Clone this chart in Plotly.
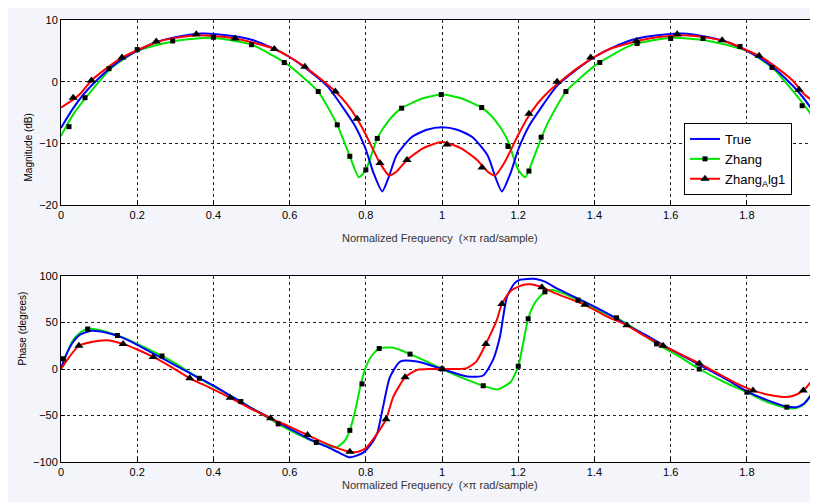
import plotly.graph_objects as go

# ---------------- Magnitude (dB) ----------------
mag_true_x = [0, 0.03, 0.06, 0.1, 0.15, 0.2, 0.25, 0.3, 0.37, 0.45, 0.5, 0.55, 0.6, 0.65, 0.7, 0.74, 0.77, 0.8, 0.82, 0.843, 0.86, 0.88, 0.92, 0.96, 1.0,
              1.04, 1.08, 1.12, 1.14, 1.157, 1.18, 1.2, 1.23, 1.26, 1.3, 1.35, 1.4, 1.45, 1.5, 1.55, 1.63, 1.7, 1.75, 1.8, 1.85, 1.9, 1.94, 1.97, 1.985]
mag_true_y = [-7.5, -4.5, -2.0, 0.6, 3.2, 5.0, 6.4, 7.2, 7.8, 7.4, 6.8, 5.6, 4.0, 1.8, -0.8, -4.2, -7.0, -11.0, -14.8, -17.8, -15.5, -12.0, -9.0, -7.8, -7.4,
              -7.8, -9.0, -12.0, -15.5, -17.8, -14.8, -11.0, -7.0, -4.2, -0.8, 1.8, 4.0, 5.6, 6.8, 7.4, 7.8, 7.2, 6.4, 5.0, 3.2, 0.6, -2.0, -4.5, -6.3]

mag_zhang_x = [0, 0.03, 0.065, 0.1, 0.13, 0.2, 0.3, 0.4, 0.5, 0.59, 0.63, 0.675, 0.725, 0.758, 0.782, 0.8, 0.83, 0.86, 0.894, 0.95, 1.0,
               1.05, 1.106, 1.14, 1.17, 1.2, 1.218, 1.242, 1.275, 1.325, 1.37, 1.41, 1.5, 1.6, 1.7, 1.8, 1.87, 1.9, 1.935, 1.97, 1.985]
mag_zhang_y = [-8.8, -5.5, -2.6, 0.0, 2.1, 5.0, 6.6, 7.1, 6.0, 3.0, 1.0, -1.6, -7.0, -12.1, -15.5, -14.3, -9.2, -6.3, -4.3, -2.7, -2.1,
               -2.7, -4.3, -6.3, -9.2, -14.3, -15.5, -12.1, -7.0, -1.6, 1.0, 3.0, 6.0, 7.1, 6.6, 5.0, 2.1, 0.0, -2.6, -5.5, -7.5]

mag_alg1_x = [0, 0.03, 0.05, 0.08, 0.12, 0.16, 0.2, 0.25, 0.3, 0.355, 0.4, 0.457, 0.5, 0.56, 0.6, 0.64, 0.68, 0.72, 0.75, 0.777, 0.8, 0.837, 0.861, 0.88, 0.908, 0.95, 1.0,
              1.05, 1.092, 1.12, 1.139, 1.163, 1.2, 1.223, 1.25, 1.28, 1.32, 1.36, 1.4, 1.44, 1.5, 1.543, 1.6, 1.645, 1.7, 1.75, 1.8, 1.84, 1.88, 1.92, 1.95, 1.97, 1.985]
mag_alg1_y = [-4.2, -3.0, -2.0, 0.2, 2.2, 3.9, 5.1, 6.4, 7.1, 7.5, 7.4, 7.0, 6.4, 5.3, 4.0, 2.4, 0.5, -1.6, -3.6, -6.0, -8.6, -13.2, -15.2, -14.6, -12.7, -10.8, -9.8,
              -10.8, -12.7, -14.6, -15.2, -13.2, -8.6, -6.0, -3.6, -1.6, 0.5, 2.4, 4.0, 5.3, 6.4, 7.0, 7.4, 7.5, 7.1, 6.4, 5.1, 3.9, 2.2, 0.2, -2.0, -3.0, -3.8]

mag_zhang_mx = [0.021, 0.063, 0.126, 0.2, 0.293, 0.4, 0.5, 0.586, 0.675, 0.725, 0.758, 0.8, 0.83, 0.894, 0.998, 1.104, 1.173, 1.228, 1.26, 1.325,
                1.414, 1.512, 1.6, 1.685, 1.782, 1.866, 1.945]
mag_zhang_my = [-7.3, -2.6, 2.1, 5.2, 6.6, 7.2, 6.0, 3.1, -1.6, -7.0, -12.1, -14.3, -9.2, -4.3, -2.1, -4.2, -10.5, -14.5, -9.0, -1.6,
                3.1, 6.2, 7.0, 7.0, 5.7, 2.3, -3.9]

mag_alg1_mx = [0.032, 0.08, 0.16, 0.25, 0.355, 0.457, 0.56, 0.64, 0.72, 0.777, 0.837, 0.908, 1.013, 1.105, 1.228, 1.302, 1.39, 1.51, 1.617, 1.735, 1.832, 1.937]
mag_alg1_my = [-2.6, 0.2, 3.9, 6.5, 7.7, 7.0, 5.3, 2.4, -1.6, -6.0, -13.2, -12.7, -10.2, -13.9, -5.2, 0.0, 3.9, 6.6, 7.7, 6.7, 4.2, -1.3]

# ---------------- Phase (degrees) ----------------
ph_true_x = [0, 0.01, 0.03, 0.05, 0.08, 0.12, 0.16, 0.2, 0.25, 0.3, 0.35, 0.4, 0.45, 0.5, 0.55, 0.6, 0.65, 0.7, 0.73, 0.758, 0.793, 0.815, 0.83, 0.845, 0.863, 0.89, 0.934, 1.0,
             1.066, 1.108, 1.134, 1.152, 1.17, 1.19, 1.205, 1.242, 1.27, 1.3, 1.35, 1.4, 1.45, 1.5, 1.55, 1.6, 1.65, 1.7, 1.75, 1.8, 1.85, 1.9, 1.93, 1.95, 1.97, 1.985]
ph_true_y = [0, 12, 28, 37, 41, 39, 34, 26, 15, 4, -7, -18, -30, -42, -53, -64, -75, -84, -90, -95, -90, -80, -69, -41, -9, 8, 8, 0,
             -8, -7, 10, 35, 77, 92, 96, 97, 94, 87, 77, 67, 56, 44, 33, 21, 10, -1, -12, -24, -33, -40, -41, -37, -27, -14]

ph_zhang_x = [0, 0.01, 0.03, 0.05, 0.07, 0.1, 0.148, 0.2, 0.265, 0.3, 0.363, 0.42, 0.472, 0.52, 0.57, 0.62, 0.67, 0.7, 0.724, 0.745, 0.758, 0.772, 0.787, 0.8, 0.815, 0.835, 0.87, 0.916, 0.96, 1.0,
              1.05, 1.108, 1.145, 1.18, 1.2, 1.213, 1.226, 1.245, 1.27, 1.29, 1.32, 1.357, 1.41, 1.458, 1.51, 1.563, 1.62, 1.675, 1.74, 1.8, 1.85, 1.905, 1.93, 1.95, 1.973, 1.985]
ph_zhang_y = [0, 11, 30, 39, 43, 42, 36, 27, 14, 6, -10, -23, -35, -47, -59, -70, -79, -83, -84, -77, -66, -45, -16, 2, 14, 22, 23, 16, 8, 0,
              -9, -18, -22, -14, 3, 28, 54, 72, 83, 85, 81, 74, 63, 55, 42, 27, 14, 0, -14, -25, -35, -42, -42, -38, -24, -12]

ph_alg1_x = [0, 0.02, 0.047, 0.08, 0.12, 0.163, 0.2, 0.242, 0.29, 0.338, 0.39, 0.444, 0.5, 0.55, 0.6, 0.647, 0.7, 0.758, 0.78, 0.8, 0.82, 0.853, 0.872, 0.903, 0.934, 0.97, 1.0,
             1.04, 1.065, 1.09, 1.115, 1.144, 1.157, 1.18, 1.21, 1.23, 1.262, 1.3, 1.375, 1.43, 1.485, 1.53, 1.58, 1.63, 1.675, 1.72, 1.77, 1.816, 1.86, 1.895, 1.92, 1.948, 1.97, 1.985]
ph_alg1_y = [0, 12, 25, 29, 31, 27, 21, 13, 2, -10, -20, -31, -43, -53, -62, -71, -81, -89, -89, -85, -75, -54, -30, -9, -1, 0, 0,
             0, 1, 8, 27, 53, 70, 84, 90, 91, 88, 81, 69, 57, 47, 36, 25, 15, 6, -4, -15, -23, -28, -30, -29, -23, -13, -4]

ph_zhang_mx = [0.006, 0.07, 0.148, 0.265, 0.363, 0.472, 0.57, 0.67, 0.758, 0.79, 0.835, 0.916, 1.0, 1.108, 1.2, 1.226, 1.27, 1.357, 1.458, 1.563, 1.675, 1.8, 1.905, 1.973]
ph_zhang_my = [11, 43, 36, 14, -10, -35, -59, -79, -66, -16, 22, 16, 0, -18, 3, 54, 83, 74, 55, 27, 0, -25, -41, -24]

ph_alg1_mx = [0.047, 0.163, 0.242, 0.338, 0.444, 0.55, 0.647, 0.758, 0.853, 0.903, 1.0, 1.115, 1.157, 1.262, 1.375, 1.485, 1.58, 1.675, 1.816, 1.948]
ph_alg1_my = [25, 27, 13, -10, -31, -53, -71, -89, -54, -9, 0, 27, 70, 88, 69, 47, 25, 6, -23, -23]

x_ticks = [0, 0.2, 0.4, 0.6, 0.8, 1.0, 1.2, 1.4, 1.6, 1.8]
x_tick_labels = ["0", "0.2", "0.4", "0.6", "0.8", "1", "1.2", "1.4", "1.6", "1.8"]
mag_ticks = [-20, -10, 0, 10]
ph_ticks = [-100, -50, 0, 50, 100]

series_names = ["True", "Zhang", "Zhang<sub>A</sub>lg1"]

BLUE = "#0000ff"
GREEN = "#00e600"
RED = "#ff0000"
FONT = "Liberation Sans, Arial, sans-serif"

fig = go.Figure()


def add_panel(xa, ya, tx, ty, zx, zy, ax, ay, zmx, zmy, amx, amy):
    fig.add_trace(go.Scatter(x=zx, y=zy, mode="lines", line=dict(color=GREEN, width=2, shape="spline", smoothing=0.6),
                             xaxis=xa, yaxis=ya, showlegend=False, hoverinfo="skip"))
    fig.add_trace(go.Scatter(x=tx, y=ty, mode="lines", line=dict(color=BLUE, width=2, shape="spline", smoothing=0.6),
                             xaxis=xa, yaxis=ya, showlegend=False, hoverinfo="skip"))
    fig.add_trace(go.Scatter(x=ax, y=ay, mode="lines", line=dict(color=RED, width=2, shape="spline", smoothing=0.6),
                             xaxis=xa, yaxis=ya, showlegend=False, hoverinfo="skip"))
    fig.add_trace(go.Scatter(x=zmx, y=zmy, mode="markers", marker=dict(symbol="square", size=5, color="black"),
                             xaxis=xa, yaxis=ya, showlegend=False, hoverinfo="skip"))
    fig.add_trace(go.Scatter(x=amx, y=amy, mode="markers", marker=dict(symbol="triangle-up", size=8, color="black"),
                             xaxis=xa, yaxis=ya, showlegend=False, hoverinfo="skip"))


add_panel("x", "y", mag_true_x, mag_true_y, mag_zhang_x, mag_zhang_y, mag_alg1_x, mag_alg1_y,
          mag_zhang_mx, mag_zhang_my, mag_alg1_mx, mag_alg1_my)
add_panel("x2", "y2", ph_true_x, ph_true_y, ph_zhang_x, ph_zhang_y, ph_alg1_x, ph_alg1_y,
          ph_zhang_mx, ph_zhang_my, ph_alg1_mx, ph_alg1_my)

# legend entries (legend-only traces)
fig.add_trace(go.Scatter(x=[None], y=[None], mode="lines", name=series_names[0],
                         line=dict(color=BLUE, width=2)))
fig.add_trace(go.Scatter(x=[None], y=[None], mode="lines+markers", name=series_names[1],
                         line=dict(color=GREEN, width=2), marker=dict(symbol="square", size=5, color="black")))
fig.add_trace(go.Scatter(x=[None], y=[None], mode="lines+markers", name=series_names[2],
                         line=dict(color=RED, width=2), marker=dict(symbol="triangle-up", size=8, color="black")))

# the page body adds an 8px margin; compensate so the figure lands on the window pixels
OFF = 8
W, H = 818 - OFF, 502 - OFF
L, R, T, B = 61 - OFF, 1, 20 - OFF, 40
ph = H - T - B


def fy(py):
    return (H - B - (py - OFF)) / ph


def fx(px):
    return ((px - OFF) - L) / (W - L - R)


axis_common = dict(
    showline=True, linecolor="black", linewidth=1, mirror=True,
    showgrid=True, gridcolor="#222222", griddash="dot", gridwidth=1,
    zeroline=False, ticks="inside", ticklen=4, tickcolor="black",
    tickfont=dict(family=FONT, size=11, color="black"), automargin=False,
)

fig.update_layout(
    width=W, height=H,
    margin=dict(l=L, r=R, t=T, b=B, autoexpand=False),
    paper_bgcolor="#f4f5fb",
    plot_bgcolor="white",
    font=dict(family=FONT, size=11, color="black"),
    xaxis=dict(domain=[0, 1], range=[0, 1.984], tickvals=x_ticks, ticktext=x_tick_labels, anchor="y", **axis_common),
    yaxis=dict(domain=[fy(205), 1], range=[-20, 10], tickvals=mag_ticks, anchor="x", **axis_common),
    xaxis2=dict(domain=[0, 1], range=[0, 1.984], tickvals=x_ticks, ticktext=x_tick_labels, anchor="y2", **axis_common),
    yaxis2=dict(domain=[0, fy(276)], range=[-100, 100], tickvals=ph_ticks, anchor="x2", **axis_common),
    legend=dict(x=fx(684), y=fy(123), xanchor="left", yanchor="top",
                bgcolor="white", bordercolor="black", borderwidth=1,
                font=dict(family=FONT, size=13, color="black"), tracegroupgap=0),
    showlegend=True,
)

xtitle = "Normalized Frequency  (×π rad/sample)"
fig.add_annotation(text=xtitle, xref="paper", yref="paper", x=fx(440), y=fy(238),
                   showarrow=False, font=dict(family=FONT, size=11, color="#333333"))
fig.add_annotation(text=xtitle, xref="paper", yref="paper", x=fx(440), y=fy(493),
                   showarrow=False, font=dict(family=FONT, size=11, color="#333333"))
fig.add_annotation(text="Magnitude (dB)", xref="paper", yref="paper", x=fx(20), y=fy(112),
                   showarrow=False, textangle=-90, font=dict(family=FONT, size=10, color="black"))
fig.add_annotation(text="Phase (degrees)", xref="paper", yref="paper", x=fx(14), y=fy(368),
                   showarrow=False, textangle=-90, font=dict(family=FONT, size=10, color="black"))

fig.write_html("out.html")
